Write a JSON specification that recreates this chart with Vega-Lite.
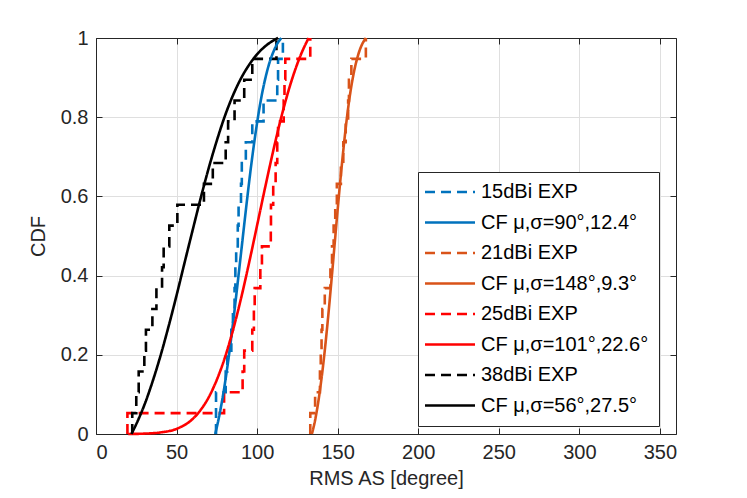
{
  "$schema": "https://vega.github.io/schema/vega-lite/v6.json",
  "width": 580,
  "height": 396,
  "autosize": {"type": "none"},
  "padding": {"left": 96, "top": 38, "right": 71, "bottom": 64},
  "background": "white",
  "data": {
    "values": [
      {"series": "15dBi EXP", "kind": "exp", "rms_as": 74.5, "cdf": 0},
      {"series": "15dBi EXP", "kind": "exp", "rms_as": 74.5, "cdf": 0.0526},
      {"series": "15dBi EXP", "kind": "exp", "rms_as": 74.5, "cdf": 0.1053},
      {"series": "15dBi EXP", "kind": "exp", "rms_as": 80.5, "cdf": 0.1579},
      {"series": "15dBi EXP", "kind": "exp", "rms_as": 81.5, "cdf": 0.2105},
      {"series": "15dBi EXP", "kind": "exp", "rms_as": 84, "cdf": 0.2632},
      {"series": "15dBi EXP", "kind": "exp", "rms_as": 85, "cdf": 0.3158},
      {"series": "15dBi EXP", "kind": "exp", "rms_as": 86, "cdf": 0.3684},
      {"series": "15dBi EXP", "kind": "exp", "rms_as": 86.5, "cdf": 0.4211},
      {"series": "15dBi EXP", "kind": "exp", "rms_as": 87, "cdf": 0.4737},
      {"series": "15dBi EXP", "kind": "exp", "rms_as": 88, "cdf": 0.5263},
      {"series": "15dBi EXP", "kind": "exp", "rms_as": 88.5, "cdf": 0.5789},
      {"series": "15dBi EXP", "kind": "exp", "rms_as": 90, "cdf": 0.6316},
      {"series": "15dBi EXP", "kind": "exp", "rms_as": 90.5, "cdf": 0.6842},
      {"series": "15dBi EXP", "kind": "exp", "rms_as": 93, "cdf": 0.7368},
      {"series": "15dBi EXP", "kind": "exp", "rms_as": 97, "cdf": 0.7895},
      {"series": "15dBi EXP", "kind": "exp", "rms_as": 104, "cdf": 0.8421},
      {"series": "15dBi EXP", "kind": "exp", "rms_as": 112.5, "cdf": 0.8947},
      {"series": "15dBi EXP", "kind": "exp", "rms_as": 113, "cdf": 0.9474},
      {"series": "15dBi EXP", "kind": "exp", "rms_as": 116, "cdf": 1},

      {"series": "21dBi EXP", "kind": "exp", "rms_as": 133, "cdf": 0},
      {"series": "21dBi EXP", "kind": "exp", "rms_as": 133, "cdf": 0.0526},
      {"series": "21dBi EXP", "kind": "exp", "rms_as": 136, "cdf": 0.1053},
      {"series": "21dBi EXP", "kind": "exp", "rms_as": 139, "cdf": 0.1579},
      {"series": "21dBi EXP", "kind": "exp", "rms_as": 139.5, "cdf": 0.2105},
      {"series": "21dBi EXP", "kind": "exp", "rms_as": 140, "cdf": 0.2632},
      {"series": "21dBi EXP", "kind": "exp", "rms_as": 140.5, "cdf": 0.3158},
      {"series": "21dBi EXP", "kind": "exp", "rms_as": 142, "cdf": 0.3684},
      {"series": "21dBi EXP", "kind": "exp", "rms_as": 145.5, "cdf": 0.4211},
      {"series": "21dBi EXP", "kind": "exp", "rms_as": 146.5, "cdf": 0.4737},
      {"series": "21dBi EXP", "kind": "exp", "rms_as": 147.5, "cdf": 0.5263},
      {"series": "21dBi EXP", "kind": "exp", "rms_as": 148.5, "cdf": 0.5789},
      {"series": "21dBi EXP", "kind": "exp", "rms_as": 149.5, "cdf": 0.6316},
      {"series": "21dBi EXP", "kind": "exp", "rms_as": 152, "cdf": 0.6842},
      {"series": "21dBi EXP", "kind": "exp", "rms_as": 153.5, "cdf": 0.7368},
      {"series": "21dBi EXP", "kind": "exp", "rms_as": 155, "cdf": 0.7895},
      {"series": "21dBi EXP", "kind": "exp", "rms_as": 156.5, "cdf": 0.8421},
      {"series": "21dBi EXP", "kind": "exp", "rms_as": 157, "cdf": 0.8947},
      {"series": "21dBi EXP", "kind": "exp", "rms_as": 158.5, "cdf": 0.9474},
      {"series": "21dBi EXP", "kind": "exp", "rms_as": 167.5, "cdf": 1},

      {"series": "25dBi EXP", "kind": "exp", "rms_as": 19.5, "cdf": 0},
      {"series": "25dBi EXP", "kind": "exp", "rms_as": 19.5, "cdf": 0.0526},
      {"series": "25dBi EXP", "kind": "exp", "rms_as": 79.5, "cdf": 0.1053},
      {"series": "25dBi EXP", "kind": "exp", "rms_as": 91, "cdf": 0.1579},
      {"series": "25dBi EXP", "kind": "exp", "rms_as": 92, "cdf": 0.2105},
      {"series": "25dBi EXP", "kind": "exp", "rms_as": 97, "cdf": 0.2632},
      {"series": "25dBi EXP", "kind": "exp", "rms_as": 98, "cdf": 0.3158},
      {"series": "25dBi EXP", "kind": "exp", "rms_as": 98.5, "cdf": 0.3684},
      {"series": "25dBi EXP", "kind": "exp", "rms_as": 102, "cdf": 0.4211},
      {"series": "25dBi EXP", "kind": "exp", "rms_as": 103, "cdf": 0.4737},
      {"series": "25dBi EXP", "kind": "exp", "rms_as": 108.5, "cdf": 0.5263},
      {"series": "25dBi EXP", "kind": "exp", "rms_as": 108.6, "cdf": 0.5789},
      {"series": "25dBi EXP", "kind": "exp", "rms_as": 110, "cdf": 0.6316},
      {"series": "25dBi EXP", "kind": "exp", "rms_as": 111.5, "cdf": 0.6842},
      {"series": "25dBi EXP", "kind": "exp", "rms_as": 112.5, "cdf": 0.7368},
      {"series": "25dBi EXP", "kind": "exp", "rms_as": 113, "cdf": 0.7895},
      {"series": "25dBi EXP", "kind": "exp", "rms_as": 116.5, "cdf": 0.8421},
      {"series": "25dBi EXP", "kind": "exp", "rms_as": 117, "cdf": 0.8947},
      {"series": "25dBi EXP", "kind": "exp", "rms_as": 117.5, "cdf": 0.9474},
      {"series": "25dBi EXP", "kind": "exp", "rms_as": 133, "cdf": 1},

      {"series": "38dBi EXP", "kind": "exp", "rms_as": 22.5, "cdf": 0},
      {"series": "38dBi EXP", "kind": "exp", "rms_as": 22.5, "cdf": 0.0526},
      {"series": "38dBi EXP", "kind": "exp", "rms_as": 25, "cdf": 0.1053},
      {"series": "38dBi EXP", "kind": "exp", "rms_as": 26.5, "cdf": 0.1579},
      {"series": "38dBi EXP", "kind": "exp", "rms_as": 30, "cdf": 0.2105},
      {"series": "38dBi EXP", "kind": "exp", "rms_as": 31, "cdf": 0.2632},
      {"series": "38dBi EXP", "kind": "exp", "rms_as": 35, "cdf": 0.3158},
      {"series": "38dBi EXP", "kind": "exp", "rms_as": 37.5, "cdf": 0.3684},
      {"series": "38dBi EXP", "kind": "exp", "rms_as": 41, "cdf": 0.4211},
      {"series": "38dBi EXP", "kind": "exp", "rms_as": 42, "cdf": 0.4737},
      {"series": "38dBi EXP", "kind": "exp", "rms_as": 45.5, "cdf": 0.5263},
      {"series": "38dBi EXP", "kind": "exp", "rms_as": 50.5, "cdf": 0.5789},
      {"series": "38dBi EXP", "kind": "exp", "rms_as": 67, "cdf": 0.6316},
      {"series": "38dBi EXP", "kind": "exp", "rms_as": 72.5, "cdf": 0.6842},
      {"series": "38dBi EXP", "kind": "exp", "rms_as": 80.5, "cdf": 0.7368},
      {"series": "38dBi EXP", "kind": "exp", "rms_as": 82, "cdf": 0.7895},
      {"series": "38dBi EXP", "kind": "exp", "rms_as": 86, "cdf": 0.8421},
      {"series": "38dBi EXP", "kind": "exp", "rms_as": 92, "cdf": 0.8947},
      {"series": "38dBi EXP", "kind": "exp", "rms_as": 97, "cdf": 0.9474},
      {"series": "38dBi EXP", "kind": "exp", "rms_as": 112, "cdf": 1},

      {"series": "CF μ,σ=90°,12.4°", "kind": "cf", "rms_as": 74, "cdf": 0},
      {"series": "CF μ,σ=90°,12.4°", "kind": "cf", "rms_as": 76, "cdf": 0.036},
      {"series": "CF μ,σ=90°,12.4°", "kind": "cf", "rms_as": 78, "cdf": 0.078},
      {"series": "CF μ,σ=90°,12.4°", "kind": "cf", "rms_as": 80, "cdf": 0.127},
      {"series": "CF μ,σ=90°,12.4°", "kind": "cf", "rms_as": 82, "cdf": 0.183},
      {"series": "CF μ,σ=90°,12.4°", "kind": "cf", "rms_as": 84, "cdf": 0.245},
      {"series": "CF μ,σ=90°,12.4°", "kind": "cf", "rms_as": 86, "cdf": 0.313},
      {"series": "CF μ,σ=90°,12.4°", "kind": "cf", "rms_as": 88, "cdf": 0.384},
      {"series": "CF μ,σ=90°,12.4°", "kind": "cf", "rms_as": 90, "cdf": 0.456},
      {"series": "CF μ,σ=90°,12.4°", "kind": "cf", "rms_as": 92, "cdf": 0.529},
      {"series": "CF μ,σ=90°,12.4°", "kind": "cf", "rms_as": 94, "cdf": 0.6},
      {"series": "CF μ,σ=90°,12.4°", "kind": "cf", "rms_as": 96, "cdf": 0.668},
      {"series": "CF μ,σ=90°,12.4°", "kind": "cf", "rms_as": 98, "cdf": 0.73},
      {"series": "CF μ,σ=90°,12.4°", "kind": "cf", "rms_as": 100, "cdf": 0.786},
      {"series": "CF μ,σ=90°,12.4°", "kind": "cf", "rms_as": 102, "cdf": 0.836},
      {"series": "CF μ,σ=90°,12.4°", "kind": "cf", "rms_as": 104, "cdf": 0.878},
      {"series": "CF μ,σ=90°,12.4°", "kind": "cf", "rms_as": 106, "cdf": 0.913},
      {"series": "CF μ,σ=90°,12.4°", "kind": "cf", "rms_as": 108, "cdf": 0.942},
      {"series": "CF μ,σ=90°,12.4°", "kind": "cf", "rms_as": 110, "cdf": 0.964},
      {"series": "CF μ,σ=90°,12.4°", "kind": "cf", "rms_as": 112, "cdf": 0.982},
      {"series": "CF μ,σ=90°,12.4°", "kind": "cf", "rms_as": 115, "cdf": 1},

      {"series": "CF μ,σ=148°,9.3°", "kind": "cf", "rms_as": 134, "cdf": 0},
      {"series": "CF μ,σ=148°,9.3°", "kind": "cf", "rms_as": 136, "cdf": 0.035},
      {"series": "CF μ,σ=148°,9.3°", "kind": "cf", "rms_as": 138, "cdf": 0.082},
      {"series": "CF μ,σ=148°,9.3°", "kind": "cf", "rms_as": 140, "cdf": 0.141},
      {"series": "CF μ,σ=148°,9.3°", "kind": "cf", "rms_as": 142, "cdf": 0.211},
      {"series": "CF μ,σ=148°,9.3°", "kind": "cf", "rms_as": 144, "cdf": 0.292},
      {"series": "CF μ,σ=148°,9.3°", "kind": "cf", "rms_as": 146, "cdf": 0.381},
      {"series": "CF μ,σ=148°,9.3°", "kind": "cf", "rms_as": 148, "cdf": 0.474},
      {"series": "CF μ,σ=148°,9.3°", "kind": "cf", "rms_as": 150, "cdf": 0.567},
      {"series": "CF μ,σ=148°,9.3°", "kind": "cf", "rms_as": 152, "cdf": 0.655},
      {"series": "CF μ,σ=148°,9.3°", "kind": "cf", "rms_as": 154, "cdf": 0.736},
      {"series": "CF μ,σ=148°,9.3°", "kind": "cf", "rms_as": 156, "cdf": 0.807},
      {"series": "CF μ,σ=148°,9.3°", "kind": "cf", "rms_as": 158, "cdf": 0.866},
      {"series": "CF μ,σ=148°,9.3°", "kind": "cf", "rms_as": 160, "cdf": 0.912},
      {"series": "CF μ,σ=148°,9.3°", "kind": "cf", "rms_as": 162, "cdf": 0.947},
      {"series": "CF μ,σ=148°,9.3°", "kind": "cf", "rms_as": 164, "cdf": 0.973},
      {"series": "CF μ,σ=148°,9.3°", "kind": "cf", "rms_as": 167.5, "cdf": 1},

      {"series": "CF μ,σ=101°,22.6°", "kind": "cf", "rms_as": 20, "cdf": 0},
      {"series": "CF μ,σ=101°,22.6°", "kind": "cf", "rms_as": 30, "cdf": 0.001},
      {"series": "CF μ,σ=101°,22.6°", "kind": "cf", "rms_as": 40, "cdf": 0.004},
      {"series": "CF μ,σ=101°,22.6°", "kind": "cf", "rms_as": 50, "cdf": 0.013},
      {"series": "CF μ,σ=101°,22.6°", "kind": "cf", "rms_as": 60, "cdf": 0.038},
      {"series": "CF μ,σ=101°,22.6°", "kind": "cf", "rms_as": 65, "cdf": 0.061},
      {"series": "CF μ,σ=101°,22.6°", "kind": "cf", "rms_as": 70, "cdf": 0.093},
      {"series": "CF μ,σ=101°,22.6°", "kind": "cf", "rms_as": 75, "cdf": 0.137},
      {"series": "CF μ,σ=101°,22.6°", "kind": "cf", "rms_as": 80, "cdf": 0.193},
      {"series": "CF μ,σ=101°,22.6°", "kind": "cf", "rms_as": 85, "cdf": 0.262},
      {"series": "CF μ,σ=101°,22.6°", "kind": "cf", "rms_as": 90, "cdf": 0.342},
      {"series": "CF μ,σ=101°,22.6°", "kind": "cf", "rms_as": 95, "cdf": 0.432},
      {"series": "CF μ,σ=101°,22.6°", "kind": "cf", "rms_as": 100, "cdf": 0.527},
      {"series": "CF μ,σ=101°,22.6°", "kind": "cf", "rms_as": 105, "cdf": 0.623},
      {"series": "CF μ,σ=101°,22.6°", "kind": "cf", "rms_as": 110, "cdf": 0.715},
      {"series": "CF μ,σ=101°,22.6°", "kind": "cf", "rms_as": 115, "cdf": 0.8},
      {"series": "CF μ,σ=101°,22.6°", "kind": "cf", "rms_as": 120, "cdf": 0.874},
      {"series": "CF μ,σ=101°,22.6°", "kind": "cf", "rms_as": 124, "cdf": 0.924},
      {"series": "CF μ,σ=101°,22.6°", "kind": "cf", "rms_as": 128, "cdf": 0.966},
      {"series": "CF μ,σ=101°,22.6°", "kind": "cf", "rms_as": 132, "cdf": 1},

      {"series": "CF μ,σ=56°,27.5°", "kind": "cf", "rms_as": 22, "cdf": 0},
      {"series": "CF μ,σ=56°,27.5°", "kind": "cf", "rms_as": 26, "cdf": 0.034},
      {"series": "CF μ,σ=56°,27.5°", "kind": "cf", "rms_as": 30, "cdf": 0.073},
      {"series": "CF μ,σ=56°,27.5°", "kind": "cf", "rms_as": 35, "cdf": 0.131},
      {"series": "CF μ,σ=56°,27.5°", "kind": "cf", "rms_as": 40, "cdf": 0.197},
      {"series": "CF μ,σ=56°,27.5°", "kind": "cf", "rms_as": 45, "cdf": 0.271},
      {"series": "CF μ,σ=56°,27.5°", "kind": "cf", "rms_as": 50, "cdf": 0.35},
      {"series": "CF μ,σ=56°,27.5°", "kind": "cf", "rms_as": 55, "cdf": 0.433},
      {"series": "CF μ,σ=56°,27.5°", "kind": "cf", "rms_as": 60, "cdf": 0.515},
      {"series": "CF μ,σ=56°,27.5°", "kind": "cf", "rms_as": 65, "cdf": 0.596},
      {"series": "CF μ,σ=56°,27.5°", "kind": "cf", "rms_as": 70, "cdf": 0.672},
      {"series": "CF μ,σ=56°,27.5°", "kind": "cf", "rms_as": 75, "cdf": 0.741},
      {"series": "CF μ,σ=56°,27.5°", "kind": "cf", "rms_as": 80, "cdf": 0.803},
      {"series": "CF μ,σ=56°,27.5°", "kind": "cf", "rms_as": 85, "cdf": 0.855},
      {"series": "CF μ,σ=56°,27.5°", "kind": "cf", "rms_as": 90, "cdf": 0.898},
      {"series": "CF μ,σ=56°,27.5°", "kind": "cf", "rms_as": 95, "cdf": 0.932},
      {"series": "CF μ,σ=56°,27.5°", "kind": "cf", "rms_as": 100, "cdf": 0.959},
      {"series": "CF μ,σ=56°,27.5°", "kind": "cf", "rms_as": 105, "cdf": 0.979},
      {"series": "CF μ,σ=56°,27.5°", "kind": "cf", "rms_as": 109, "cdf": 0.991},
      {"series": "CF μ,σ=56°,27.5°", "kind": "cf", "rms_as": 113, "cdf": 1}
    ]
  },
  "encoding": {
    "x": {"field": "rms_as", "type": "quantitative", "scale": {"domain": [0, 360], "nice": false, "zero": false}},
    "y": {"field": "cdf", "type": "quantitative", "scale": {"domain": [0, 1], "nice": false}},
    "color": {
      "field": "series",
      "type": "nominal",
      "scale": {
        "domain": ["15dBi EXP", "CF μ,σ=90°,12.4°", "21dBi EXP", "CF μ,σ=148°,9.3°", "25dBi EXP", "CF μ,σ=101°,22.6°", "38dBi EXP", "CF μ,σ=56°,27.5°"],
        "range": ["#0072BD", "#0072BD", "#D95319", "#D95319", "#FF0000", "#FF0000", "#000000", "#000000"]
      },
      "legend": {
        "title": null,
        "orient": "none",
        "legendX": 322,
        "legendY": 134,
        "symbolType": "M-2.6,0H7.4",
        "symbolSize": 100,
        "symbolStrokeWidth": 2.6,
        "labelOffset": 33,
        "rowPadding": 10.5,
        "padding": 10,
        "strokeColor": "#262626",
        "fillColor": "white",
        "labelFont": "Liberation Sans",
        "labelFontSize": 20,
        "labelColor": "#000000",
        "labelLimit": 400
      }
    },
    "strokeDash": {
      "field": "series",
      "type": "nominal",
      "scale": {
        "domain": ["15dBi EXP", "CF μ,σ=90°,12.4°", "21dBi EXP", "CF μ,σ=148°,9.3°", "25dBi EXP", "CF μ,σ=101°,22.6°", "38dBi EXP", "CF μ,σ=56°,27.5°"],
        "range": [[10, 6], [1, 0], [10, 6], [1, 0], [10, 6], [1, 0], [10, 6], [1, 0]]
      }
    }
  },
  "layer": [
    {
      "transform": [{"filter": "datum.kind == 'exp'"}],
      "mark": {"type": "line", "interpolate": "step-after", "strokeWidth": 2.6},
      "encoding": {
        "order": {"field": "cdf", "type": "quantitative"},
        "x": {
          "field": "rms_as",
          "type": "quantitative",
          "title": "RMS AS [degree]",
          "axis": {"orient": "bottom", "values": [0, 50, 100, 150, 200, 250, 300, 350], "grid": true, "tickSize": -6, "labelPadding": 14, "titlePadding": 6}
        },
        "y": {
          "field": "cdf",
          "type": "quantitative",
          "title": "CDF",
          "axis": {"orient": "left", "values": [0, 0.2, 0.4, 0.6, 0.8, 1], "format": "~g", "grid": true, "tickSize": -6, "labelPadding": 14, "titlePadding": 12}
        }
      }
    },
    {
      "transform": [{"filter": "datum.kind == 'cf'"}],
      "mark": {"type": "line", "interpolate": "monotone", "strokeWidth": 2.6},
      "encoding": {
        "x": {
          "field": "rms_as",
          "type": "quantitative",
          "axis": {"orient": "top", "values": [0, 50, 100, 150, 200, 250, 300, 350], "grid": false, "labels": false, "title": null, "tickSize": -6}
        },
        "y": {
          "field": "cdf",
          "type": "quantitative",
          "axis": {"orient": "right", "values": [0, 0.2, 0.4, 0.6, 0.8, 1], "grid": false, "labels": false, "title": null, "tickSize": -6}
        }
      }
    }
  ],
  "resolve": {"axis": {"x": "independent", "y": "independent"}},
  "config": {
    "view": {"stroke": null},
    "axis": {
      "labelFont": "Liberation Sans",
      "titleFont": "Liberation Sans",
      "labelFontSize": 20,
      "titleFontSize": 20,
      "titleFontWeight": "normal",
      "labelColor": "#262626",
      "titleColor": "#262626",
      "domainColor": "#262626",
      "tickColor": "#262626",
      "gridColor": "#dfdfdf",
      "domainWidth": 1,
      "tickWidth": 1
    }
  }
}
